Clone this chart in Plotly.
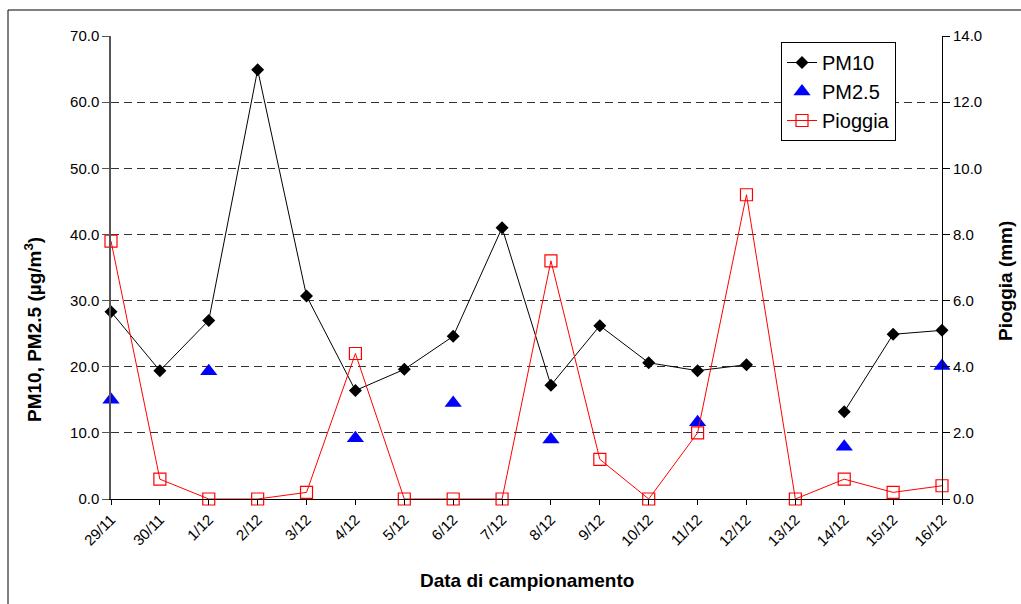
import plotly.graph_objects as go

dates = ["29/11", "30/11", "1/12", "2/12", "3/12", "4/12", "5/12", "6/12", "7/12",
         "8/12", "9/12", "10/12", "11/12", "12/12", "13/12", "14/12", "15/12", "16/12"]
pm10 = [28.3, 19.4, 27.0, 64.9, 30.7, 16.4, 19.6, 24.6, 41.0,
        17.2, 26.2, 20.6, 19.4, 20.3, None, 13.2, 24.9, 25.5]
pm25 = [15.0, None, 19.3, None, None, 9.2, None, 14.5, None,
        9.0, None, None, 11.6, None, None, 7.9, None, 20.1]
pioggia = [7.8, 0.6, 0.0, 0.0, 0.2, 4.4, 0.0, 0.0, 0.0,
           7.2, 1.2, 0.0, 2.0, 9.2, 0.0, 0.6, 0.2, 0.4]

xi = list(range(len(dates)))
FONT = "Liberation Sans, Arial, sans-serif"

fig = go.Figure()
fig.add_trace(go.Scatter(
    x=xi, y=pm10, name="PM10", mode="lines+markers", legendgroup="a",
    line=dict(color="black", width=1),
    marker=dict(symbol="diamond", size=10, color="black"),
    cliponaxis=False, connectgaps=False))
fig.add_trace(go.Scatter(
    x=xi, y=pm25, name="PM2.5", mode="markers", legendgroup="b",
    marker=dict(symbol="triangle-up", size=15, color="#0000ff"),
    cliponaxis=False))
fig.add_trace(go.Scatter(
    x=xi, y=pioggia, name="Pioggia", mode="lines+markers", legendgroup="c",
    yaxis="y2",
    line=dict(color="#ff0000", width=1),
    marker=dict(symbol="square-open", size=12, color="#ff0000", line=dict(width=1.2)),
    cliponaxis=False))

L, R, T, B = 111, 79, 36, 105
W, H = 1021, 604
pw, ph = W - L - R, H - T - B

def px(x):
    return (x - L) / pw

def py(y):
    return (H - B - y) / ph

fig.update_layout(
    width=W, height=H,
    margin=dict(l=L, r=R, t=T, b=B, pad=0),
    paper_bgcolor="white", plot_bgcolor="white",
    font=dict(family=FONT, size=15, color="black"),
    showlegend=True,
    legend=dict(
        x=px(781), y=py(42), xanchor="left", yanchor="top",
        bgcolor="white", bordercolor="black", borderwidth=1,
        font=dict(size=20, family=FONT),
        tracegroupgap=0, traceorder="grouped",
    ),
    xaxis=dict(
        range=[0, 17], tickmode="array", tickvals=xi, ticktext=dates,
        tickangle=-45, ticks="outside", ticklen=5, tickcolor="black",
        showline=True, linecolor="black", linewidth=1,
        showgrid=False, zeroline=False,
        tickfont=dict(size=15),
    ),
    yaxis=dict(
        range=[0, 70], dtick=10, tickformat=".1f",
        ticks="outside", ticklen=7, tickcolor="#555",
        showline=True, linecolor="#555", linewidth=1.5,
        showgrid=True, gridcolor="#333", gridwidth=1, griddash="8px,5px",
        zeroline=False, tickfont=dict(size=15),
    ),
    yaxis2=dict(
        range=[0, 14], dtick=2, tickformat=".1f", overlaying="y", side="right",
        ticks="outside", ticklen=7, tickcolor="black",
        showline=True, linecolor="black", linewidth=1,
        showgrid=False, zeroline=False, tickfont=dict(size=15),
    ),
    annotations=[
        dict(text="<b>PM10, PM2.5 (µg/m<sup>3</sup>)</b>", textangle=-90,
             xref="paper", yref="paper", x=px(33), y=py(330),
             xanchor="center", yanchor="middle", showarrow=False,
             font=dict(size=19, family=FONT)),
        dict(text="<b>Pioggia (mm)</b>", textangle=-90,
             xref="paper", yref="paper", x=px(1005), y=py(281),
             xanchor="center", yanchor="middle", showarrow=False,
             font=dict(size=19, family=FONT)),
        dict(text="<b>Data di campionamento</b>",
             xref="paper", yref="paper", x=px(527), y=py(580),
             xanchor="center", yanchor="middle", showarrow=False,
             font=dict(size=19, family=FONT)),
    ],
    shapes=[
        dict(type="rect", xref="paper", yref="paper",
             x0=px(8), x1=px(1200), y0=py(10), y1=py(800),
             line=dict(color="black", width=1), fillcolor="rgba(0,0,0,0)",
             layer="below"),
    ],
)

fig.write_html("out.html")
